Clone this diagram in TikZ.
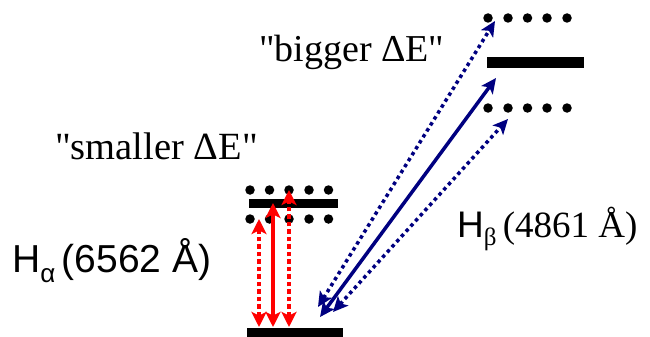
\documentclass[tikz,border=0pt]{standalone}
\usepackage{fontspec}
\setmainfont{Liberation Serif}[Ligatures=TeXOff]
\setsansfont{Liberation Sans}[Ligatures=TeXOff]
\usetikzlibrary{arrows.meta}
\definecolor{navy}{RGB}{0,0,128}
\definecolor{hred}{RGB}{255,0,0}
\begin{document}
\begin{tikzpicture}[x=1pt,y=-1pt,
  level/.style={fill=black, draw=none, inner sep=0pt, minimum height=9pt},
  dot/.style={circle, fill=black, inner sep=0pt, minimum size=9.5pt},
  redtip/.style={{Stealth[length=15pt,width=15pt,inset=3.5pt]}-{Stealth[length=15pt,width=15pt,inset=3.5pt]}},
  redarrow/.style={hred, line width=4.5pt, redtip},
  reddash/.style={redarrow, dash pattern=on 4.5pt off 3pt},
  bluetip/.style={{Stealth[length=15pt,width=14pt,inset=3.5pt]}-{Stealth[length=15pt,width=14pt,inset=3.5pt]}},
  bluearrow/.style={navy, line width=3.5pt, bluetip},
  bluedot/.style={bluearrow, dash pattern=on 3.5pt off 3.5pt},
  lbl/.style={inner sep=0pt, anchor=base west}
]
\useasboundingbox (0,0) rectangle (650,337);
% levels
\node[level, minimum width=96pt] (ground) at (294.5,332.5) {};
\node[level, minimum width=89pt] (lvla) at (293.5,203.5) {};
\node[level, minimum width=97pt, minimum height=10pt] (lvlb) at (535.5,62.5) {};
% dots Halpha
\foreach \i/\x in {1/250,2/269.5,3/289,4/309,5/328.5}{
  \node[dot] (au\i) at (\x,190) {};
  \node[dot] (ad\i) at (\x,219) {};
}
% dots Hbeta
\foreach \i/\x in {1/488,2/508,3/527.5,4/547,5/567}{
  \node[dot] (bu\i) at (\x,18) {};
  \node[dot] (bd\i) at (\x,108) {};
}
% arrow end points
\coordinate (ra1) at (259,327);  \coordinate (rb1) at (259,219);
\coordinate (ra2) at (273,327);  \coordinate (rb2) at (273,203);
\coordinate (ra3) at (289,327);  \coordinate (rb3) at (289,190);
\coordinate (ba1) at (318,307);  \coordinate (bb1) at (495,21);
\coordinate (ba2) at (320,317);  \coordinate (bb2) at (496,78);
\coordinate (ba3) at (333,312);  \coordinate (bb3) at (508,119);
% red arrows
\draw[reddash] (ra1) -- (rb1);
\draw[redarrow] (ra2) -- (rb2);
\draw[reddash] (ra3) -- (rb3);
% blue arrows
\draw[bluedot] (ba1) -- (bb1);
\draw[bluearrow] (ba2) -- (bb2);
\draw[bluedot] (ba3) -- (bb3);
% labels
\node[lbl, font=\fontsize{38.5}{40}\selectfont] (small) at (55,159) {"smaller ΔE"};
\node[lbl, font=\fontsize{38}{40}\selectfont] (big) at (259,61) {"bigger ΔE"};
\node[lbl, font=\sffamily\fontsize{39}{40}\selectfont] (ha) at (12,272) {H\raisebox{-10pt}{\fontsize{26}{26}\selectfont α}\,(6562 Å)};
\node[lbl, font=\fontsize{37}{40}\selectfont] (hb) at (457,237) {{\sffamily H}\raisebox{-8pt}{\fontsize{25}{25}\selectfont β}\,(4861 Å)};
\end{tikzpicture}
\end{document}
